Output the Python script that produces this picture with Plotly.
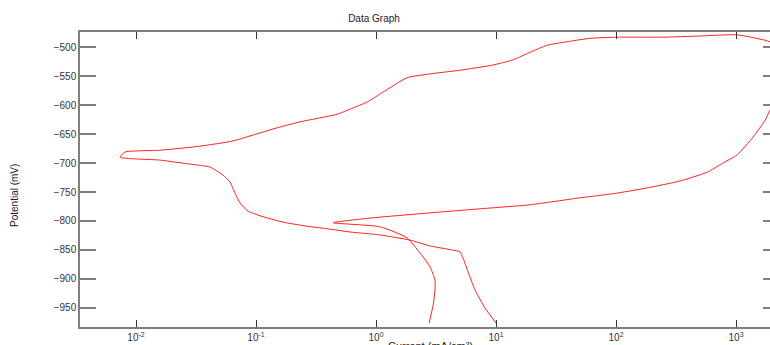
import plotly.graph_objects as go

# Forward scan (cathodic -> anodic)
fwd_current = [10.0, 8.09, 6.68, 5.85, 5.31, 5.01, 4.30, 2.82, 1.92, 1.08, 0.607, 0.414,
               0.266, 0.168, 0.108, 0.0857, 0.0736, 0.0668, 0.0607, 0.0531, 0.0414,
               0.0282, 0.0158, 0.00736, 0.00809, 0.0158, 0.0341, 0.0643, 0.108, 0.158,
               0.233, 0.473, 0.607, 0.841, 1.14, 1.81, 2.66, 5.01, 9.44, 13.9, 15.8,
               19.2, 26.6, 41.4, 60.7, 102, 247, 501, 1020, 1920, 3160]
fwd_potential = [-976, -950, -919, -888, -864, -853, -850, -843, -833, -824, -819, -814,
                 -809, -802, -791, -783, -769, -752, -733, -721, -707,
                 -702, -695, -690, -681, -678, -671, -662, -648, -638,
                 -629, -616, -607, -595, -578, -553, -547, -540, -531, -522, -517,
                 -509, -497, -490, -485, -483, -483, -481, -479, -491, -520]

# Reverse scan (anodic -> cathodic)
rev_current = [2820, 1920, 1750, 1390, 1020, 780, 573, 341, 181, 94.4, 50.1, 19.2, 7.36,
               2.82, 0.891, 0.439, 1.08, 1.81, 2.47, 2.82, 3.10, 3.10, 2.99, 2.77]
rev_potential = [-565, -609, -626, -655, -686, -700, -716, -731, -743, -753, -760, -772, -779,
                 -786, -795, -803, -810, -829, -862, -879, -902, -919, -945, -976]

x_tickvals = [0.01, 0.1, 1, 10, 100, 1000]
x_ticktext = ["10<sup>-2</sup>", "10<sup>-1</sup>", "10<sup>0</sup>",
              "10<sup>1</sup>", "10<sup>2</sup>", "10<sup>3</sup>"]
y_tickvals = [-500, -550, -600, -650, -700, -750, -800, -850, -900, -950]

x_range = [-2.467, 3.283]
y_range = [-982.8, -474.1]

font_family = "Liberation Sans, Arial, sans-serif"
axis_col = "#7f7f7f"
line_style = dict(color="#ff2020", width=1, shape="spline", smoothing=0.5)

fig = go.Figure()
fig.add_trace(go.Scatter(x=fwd_current, y=fwd_potential, mode="lines",
                         line=line_style, showlegend=False, hoverinfo="skip"))
fig.add_trace(go.Scatter(x=rev_current, y=rev_potential, mode="lines",
                         line=line_style, showlegend=False, hoverinfo="skip"))
# invisible trace to enable right-side tick axis
fig.add_trace(go.Scatter(x=[fwd_current[0]], y=[fwd_potential[0]], yaxis="y2", mode="lines",
                         line=dict(width=0), showlegend=False, hoverinfo="skip"))

fig.update_layout(
    width=770, height=345,
    margin=dict(l=80, r=0, t=32, b=18),
    paper_bgcolor="white", plot_bgcolor="white",
    font=dict(family=font_family, size=10, color="#333333"),
    title=dict(text="Data Graph", x=374 / 770, xanchor="center", y=1 - 18 / 345,
               yanchor="middle", font=dict(size=10, color="#222222")),
    xaxis=dict(type="log", range=x_range, tickvals=x_tickvals, ticktext=x_ticktext,
               showgrid=False, zeroline=False, showline=True, linecolor=axis_col,
               linewidth=1.5, mirror="ticks", ticks="inside", ticklen=7,
               tickcolor="#333333", tickwidth=1, automargin=False,
               tickfont=dict(size=10, color="#333333")),
    yaxis=dict(range=y_range, tickvals=y_tickvals, showgrid=False, zeroline=False,
               showline=True, linecolor=axis_col, linewidth=1.5, mirror=False,
               ticks="inside", ticklen=16, tickcolor=axis_col, tickwidth=1.5,
               automargin=False, tickfont=dict(size=10, color="#333333")),
    yaxis2=dict(range=y_range, tickvals=y_tickvals, overlaying="y", side="right",
                showgrid=False, zeroline=False, showline=False, ticks="inside",
                ticklen=7, tickcolor=axis_col, tickwidth=1.5, showticklabels=False,
                automargin=False),
    annotations=[
        dict(text="Current (mA/cm²)", xref="paper", yref="paper", x=0.5, y=0,
             xanchor="center", yanchor="top", yshift=-11, xshift=5, showarrow=False,
             font=dict(size=11, color="#222222")),
        dict(text="Potential (mV)", xref="paper", yref="paper", x=0, y=(327 - 196) / 295,
             xanchor="center", yanchor="middle", xshift=-66, textangle=-90,
             showarrow=False, font=dict(size=10, color="#222222")),
    ],
)

fig.write_html("out.html")
